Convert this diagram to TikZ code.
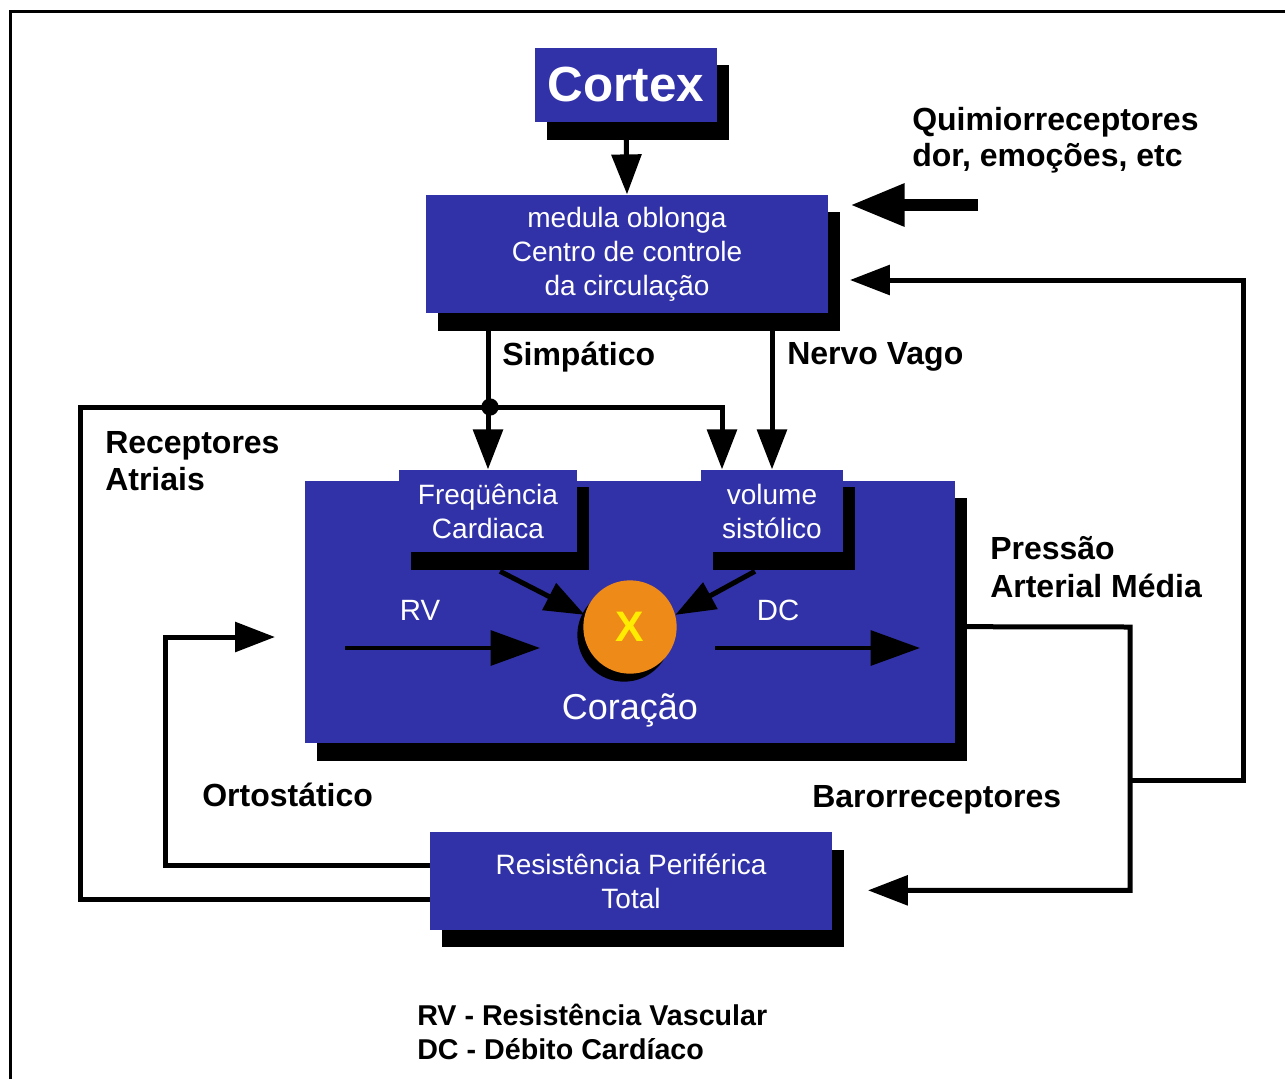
\documentclass[tikz,border=0pt]{standalone}
\usepackage{fontspec}
\setmainfont{Liberation Sans}
\usetikzlibrary{arrows.meta,shadows}
\definecolor{azul}{RGB}{50,50,168}
\definecolor{laranja}{RGB}{238,138,24}
\definecolor{amarelo}{RGB}{255,236,0}
\tikzset{
  caixa/.style={fill=azul,text=white,inner sep=0pt,align=center,
    font=\fontsize{21}{25.5}\selectfont,
    drop shadow={shadow xshift=9pt,shadow yshift=-13pt,fill=black,opacity=1}},
  rotulo/.style={anchor=west,align=left,inner sep=0pt,
    font=\bfseries\fontsize{24}{28}\selectfont},
  seta/.style={line width=3.75pt,-{Triangle[length=30pt,width=22pt]}},
  grossa/.style={line width=9pt,-{Triangle[length=41pt,width=30pt]}},
  fluxo/.style={line width=3pt,-{Triangle[length=37pt,width=26pt]}}
}
\begin{document}
\begin{tikzpicture}[x=0.75pt,y=-0.75pt,line join=miter]
  \useasboundingbox (0,0) rectangle (1285,1079);
  \draw[line width=2.25pt] (10,1079) -- (10,11) -- (1285,11);
  % caixas
  \node[caixa,minimum width=137pt,minimum height=56pt,
    font=\bfseries\fontsize{37}{40}\selectfont] (cortex) at (626,85) {Cortex};
  \node[caixa,minimum width=301pt,minimum height=89pt] (medula) at (627,254)
    {medula oblonga\\Centro de controle\\da circulação};
  \node[caixa,minimum width=488pt,minimum height=197pt] (coracao) at (630,612) {};
  \node[caixa,minimum width=134pt,minimum height=62pt] (freq) at (488,511)
    {Freqüência\\Cardiaca};
  \node[caixa,minimum width=107pt,minimum height=62pt] (vol) at (772,511)
    {volume\\sistólico};
  \node[caixa,minimum width=301pt,minimum height=73pt] (rpt) at (631,881)
    {Resistência Periférica\\Total};
  \node[circle,fill=laranja,minimum size=70pt,inner sep=0pt,text=amarelo,
    font=\bfseries\fontsize{32}{32}\selectfont,
    drop shadow={shadow xshift=-4.5pt,shadow yshift=-6pt,fill=black,opacity=1}]
    (heart) at (630,627) {X};
  \node[text=white,font=\fontsize{27}{30}\selectfont] (cortxt) at (630,710) {Coração};
  \node[text=white,font=\fontsize{22}{24}\selectfont] (rv) at (420,610) {RV};
  \node[text=white,font=\fontsize{22}{24}\selectfont] (dc) at (778,610) {DC};
  % pontos
  \coordinate (recl) at (80,407);
  \coordinate (dot) at (490,407);
  \coordinate (ortoc) at (165,637);
  \coordinate (orto) at (275,637);
  \coordinate (pam) at (1130,627);
  \coordinate (baro) at (1130,780);
  \coordinate (baror) at (1243,280);
  \coordinate (quim) at (978,205);
  \coordinate (rv0) at (345,648); \coordinate (rv1) at (540,648);
  \coordinate (dc0) at (715,648); \coordinate (dc1) at (920,648);
  % setas
  \draw[seta] (cortex.south) -- (medula.north);
  \draw[seta] (medula.south -| freq.north) -- (freq.north);
  \draw[seta] (medula.south -| vol.north) -- (vol.north);
  \draw[seta] ([yshift=-14pt]rpt.west) -| (recl) -- (dot) -| ([xshift=-37.5pt]vol.north);
  \fill (dot) circle (6.5pt);
  \draw[seta] ([yshift=12pt]rpt.west) -| (ortoc) -- (orto);
  \draw[seta] ([yshift=-11pt]coracao.east) -- (pam) |- ([xshift=27pt,yshift=-7pt]rpt.east);
  \draw[seta] (baro) -| (baror) -- ([xshift=16.5pt,yshift=-19.5pt]medula.east);
  \draw[grossa] (quim) -- ([xshift=16.5pt,yshift=36.75pt]medula.east);
  \draw[seta] ([xshift=9pt,yshift=-14pt]freq.south) -- (heart.165);
  \draw[seta] ([xshift=-12.75pt,yshift=-14pt]vol.south) -- (heart.15);
  \draw[fluxo] (rv0) -- (rv1);
  \draw[fluxo] (dc0) -- (dc1);
  % rotulos
  \node[rotulo] (rec) at (105,461) {Receptores\\Atriais};
  \node[rotulo] (simp) at (502,357) {Simpático};
  \node[rotulo] (vago) at (787,357) {Nervo Vago};
  \node[rotulo,font=\bfseries\fontsize{24}{27}\selectfont] (quimtxt) at (912,140)
    {Quimiorreceptores\\dor, emoções, etc};
  \node[rotulo] (pamtxt) at (990,567) {Pressão\\Arterial Média};
  \node[rotulo] (orttxt) at (202,795) {Ortostático};
  \node[rotulo] (barotxt) at (812,800) {Barorreceptores};
  \node[rotulo,font=\bfseries\fontsize{21.5}{26}\selectfont] (leg) at (417,1032)
    {RV - Resistência Vascular\\DC - Débito Cardíaco};
\end{tikzpicture}
\end{document}
